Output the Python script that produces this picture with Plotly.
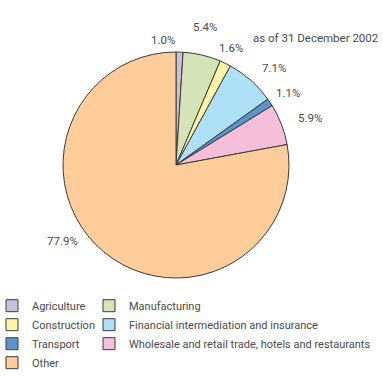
import plotly.graph_objects as go

# ---- data ----
categories = ["Agriculture", "Manufacturing", "Construction",
              "Financial intermediation and insurance", "Transport",
              "Wholesale and retail trade, hotels and restaurants", "Other"]
shares = [1.0, 5.4, 1.6, 7.1, 1.1, 5.9, 77.9]
note_text = "as of 31 December 2002"

# ---- styles ----
colors = ["#c6c1df", "#d4e4b7", "#fff5a6", "#aee0f7", "#5b94cd", "#f6bfd9", "#fecd99"]
FONT = "Roboto, Liberation Sans, sans-serif"
TXT = "#4a4a4a"
FS = 11.5
LFS = 11
W, H = 383, 376
CX, CY, R = 176, 165, 113
# label centres (pixels), one per slice, in slice order
label_px = [(163, 40), (205, 27), (231, 48), (274, 68), (288, 93), (310, 118), (62, 241)]

fig = go.Figure(go.Pie(
    labels=categories,
    values=shares,
    sort=False,
    direction="clockwise",
    rotation=0,
    textinfo="none",
    hoverinfo="skip",
    marker=dict(colors=colors, line=dict(color="#3a3a3a", width=1)),
    domain=dict(x=[(CX - R) / W, (CX + R) / W], y=[1 - (CY + R) / H, 1 - (CY - R) / H]),
))

ann = []
for v, (px, py) in zip(shares, label_px):
    ann.append(dict(x=px / W, y=1 - py / H, xref="paper", yref="paper",
                    text=f"{v:.1f}%", showarrow=False,
                    xanchor="center", yanchor="middle",
                    font=dict(family=FONT, size=FS, color=TXT)))
ann.append(dict(x=381 / W, y=1 - 37.5 / H, xref="paper", yref="paper",
                text=note_text, showarrow=False, xanchor="right", yanchor="middle",
                font=dict(family=FONT, size=FS, color=TXT)))

fig.update_layout(
    width=W, height=H,
    margin=dict(l=0, r=0, t=0, b=0, autoexpand=False),
    paper_bgcolor="white", plot_bgcolor="white",
    annotations=ann,
    showlegend=True,
    legend=dict(orientation="h", x=-8 / W, xanchor="left", y=1 - 286 / H, yanchor="top",
                entrywidth=52, entrywidthmode="pixels",
                title=dict(text="\u00a0" * 500, side="top", font=dict(size=4)),
                font=dict(family=FONT, size=LFS, color=TXT),
                bgcolor="rgba(0,0,0,0)", traceorder="normal"),
)

fig.write_html("out.html")
